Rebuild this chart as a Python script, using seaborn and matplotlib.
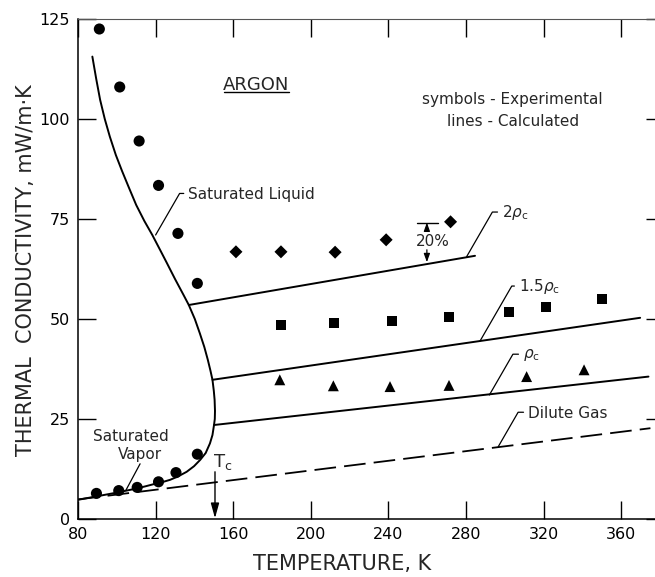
import matplotlib
matplotlib.use("Agg")
import matplotlib.pyplot as plt
from matplotlib.lines import Line2D
import seaborn as sns
import pandas as pd

# ---------------- data ----------------
# experimental points (symbols)
sat_T = [91, 101.5, 111.5, 121.5, 131.5, 141.5, 141.5, 130.5, 121.5, 110.5, 101, 89.5]
sat_k = [122.5, 108.0, 94.5, 83.4, 71.4, 58.9, 16.2, 11.6, 9.3, 7.9, 7.1, 6.4]

rho2_T = [161.4, 184.6, 212.5, 238.8, 272.0]
rho2_k = [66.8, 66.8, 66.7, 69.8, 74.3]

rho15_T = [184.6, 212.0, 242.0, 271.2, 302.3, 321.2, 349.9]
rho15_k = [48.5, 48.9, 49.6, 50.4, 51.8, 53.1, 54.9]

rho1_T = [184.0, 211.6, 240.8, 271.2, 311.2, 340.8]
rho1_k = [34.8, 33.3, 33.1, 33.4, 35.6, 37.3]

# calculated lines: saturation boundary (liquid branch, nose, vapour branch)
curve_T = [87.4, 89.4, 91.4, 93.8, 96.4, 99.5, 102.7, 106.1, 110.0, 114.2,
           118.3, 122.6, 125.8, 130.0, 134.4, 137.1, 140.2, 142.8, 145.1, 146.9,
           148.3, 149.3, 150.0, 150.4, 150.6, 150.5, 150.1, 149.3, 148.0, 145.8,
           143.0, 139.8, 136.0, 131.8, 127.5, 124.0, 120.5, 115.0, 110.0, 105.0,
           100.0, 95.0, 90.0, 85.0, 80.0]
curve_k = [115.6, 110.0, 104.8, 100.0, 95.6, 91.0, 87.0, 83.0, 78.5, 74.5,
           71.0, 67.0, 64.0, 60.0, 56.0, 53.5, 50.0, 46.4, 43.0, 39.8,
           37.0, 34.8, 32.0, 29.8, 27.0, 25.0, 23.5, 21.0, 18.9, 16.5,
           14.8, 13.2, 11.8, 10.7, 9.8, 9.3, 8.9, 8.2, 7.6, 7.1,
           6.6, 6.15, 5.7, 5.25, 4.8]

calc2_T = [137.1, 284.6]
calc2_k = [53.5, 65.8]
calc15_T = [149.3, 369.7]
calc15_k = [34.8, 50.3]
calc1_T = [150.1, 374.0]
calc1_k = [23.5, 35.6]
dilute_T = [80.0, 375.0]
dilute_k = [4.9, 22.7]

Tc = 150.6

x_ticks = [80, 120, 160, 200, 240, 280, 320, 360]
y_ticks = [0, 25, 50, 75, 100, 125]

# ---------------- figure ----------------
sns.set_style("ticks")
plt.rcParams["font.family"] = ["DejaVu Sans"]
plt.rcParams["mathtext.fontset"] = "dejavusans"

fig = plt.figure(figsize=(6.55, 5.77), dpi=100)
ax = fig.add_axes([78 / 655, 58 / 577, 586 / 655, 500 / 577])

K = "black"
LW = 1.4

# calculated lines
sns.lineplot(x=curve_T, y=curve_k, sort=False, estimator=None, color=K, lw=LW, ax=ax)
for xs, ys in [(calc2_T, calc2_k), (calc15_T, calc15_k), (calc1_T, calc1_k)]:
    sns.lineplot(x=xs, y=ys, sort=False, estimator=None, color=K, lw=LW, ax=ax)
sns.lineplot(x=dilute_T, y=dilute_k, sort=False, estimator=None, color=K, lw=1.3,
             linestyle=(0, (12, 4.5)), ax=ax)

# experimental symbols
sns.scatterplot(x=sat_T, y=sat_k, marker="o", s=64, color=K, edgecolor="none", ax=ax)
sns.scatterplot(x=rho2_T, y=rho2_k, marker="D", s=44, color=K, edgecolor="none", ax=ax)
sns.scatterplot(x=rho15_T, y=rho15_k, marker="s", s=52, color=K, edgecolor="none", ax=ax)
sns.scatterplot(x=rho1_T, y=rho1_k, marker="^", s=62, color=K, edgecolor="none", ax=ax)

# axes
ax.set_xlim(80, 382)
ax.set_ylim(0, 125)
ax.set_xticks(x_ticks)
ax.set_yticks(y_ticks)
ax.set_xticklabels([str(v) for v in x_ticks])
ax.set_yticklabels([str(v) for v in y_ticks])
ax.tick_params(direction="in", length=13, width=1.0, top=True, right=True,
               labelsize=11.5, pad=6, colors=K)
for side, sp in ax.spines.items():
    sp.set_visible(True)
    sp.set_linewidth(1.1)
    sp.set_color(K)
ax.spines["top"].set_linewidth(0.8)
ax.spines["top"].set_color("#555555")

ax.set_xlabel("TEMPERATURE, K", fontsize=15)
ax.xaxis.set_label_coords((341.7 - 78) / 586, -0.07)
ax.set_ylabel("THERMAL  CONDUCTIVITY, mW/m\u00b7K", fontsize=15)
ax.yaxis.set_label_coords(-0.071, 0.498)

# text annotations
FS = 11
argon = ax.text(172, 108.5, "ARGON", fontsize=13, ha="center", va="center")
ax.text(304, 102.2, "symbols - Experimental\nlines - Calculated", fontsize=FS,
        ha="center", va="center", linespacing=1.55)


def leader(label, xy, xytext, fs=FS):
    ax.annotate(label, xy=xy, xytext=xytext, ha="left", va="center", fontsize=fs,
                arrowprops=dict(arrowstyle="-", color=K, lw=0.9, shrinkA=1, shrinkB=0,
                                relpos=(0, 0.55),
                                connectionstyle="angle,angleA=0,angleB=60,rad=0"))


leader("Saturated Liquid", (120.0, 71.0), (136.9, 81.2))
leader("2$\\rho_\\mathrm{c}$", (280.3, 65.6), (298.6, 76.5))
leader("1.5$\\rho_\\mathrm{c}$", (287.2, 44.5), (307.3, 58.0))
leader("$\\rho_\\mathrm{c}$", (292.0, 31.0), (309.4, 41.0))
leader("Dilute Gas", (296.6, 18.1), (312.0, 26.5))

ax.text(107.3, 20.6, "Saturated", fontsize=FS, ha="center", va="center")
ax.text(112.0, 16.0, "Vapor", fontsize=FS, ha="center", va="center")
ax.annotate("", xy=(104.7, 7.2), xytext=(112.0, 13.8),
            arrowprops=dict(arrowstyle="-", color=K, lw=0.9, shrinkA=0, shrinkB=0))

# Tc arrow
ax.annotate("", xy=(Tc, 0.2), xytext=(Tc, 11.8),
            arrowprops=dict(arrowstyle="-|>,head_length=0.9,head_width=0.25", color=K,
                            lw=1.0, shrinkA=0, shrinkB=0))
ax.text(149.8, 14.2, "$\\mathrm{T}_\\mathrm{c}$", fontsize=13, ha="left", va="center")

# 20 % bracket
ax.plot([254.7, 265.6], [74.1, 74.1], color=K, lw=1.0)
ax.annotate("", xy=(259.8, 74.1), xytext=(259.8, 71.9),
            arrowprops=dict(arrowstyle="-|>,head_length=0.5,head_width=0.18", color=K,
                            lw=0.9, shrinkA=0, shrinkB=0))
ax.annotate("", xy=(259.8, 64.2), xytext=(259.8, 67.3),
            arrowprops=dict(arrowstyle="-|>,head_length=0.5,head_width=0.18", color=K,
                            lw=0.9, shrinkA=0, shrinkB=0))
ax.text(263.0, 69.5, "20%", fontsize=FS, ha="center", va="center")

# underline for ARGON
fig.canvas.draw()
bb = argon.get_window_extent()
inv = fig.transFigure.inverted()
(x0, y0), (x1, _) = inv.transform([(bb.x0 + 1, bb.y0 + 2.5), (bb.x1 - 1, bb.y0 + 2.5)])
fig.add_artist(Line2D([x0, x1], [y0, y0], color=K, lw=1.0, transform=fig.transFigure))

fig.savefig("out.png", dpi=100)
